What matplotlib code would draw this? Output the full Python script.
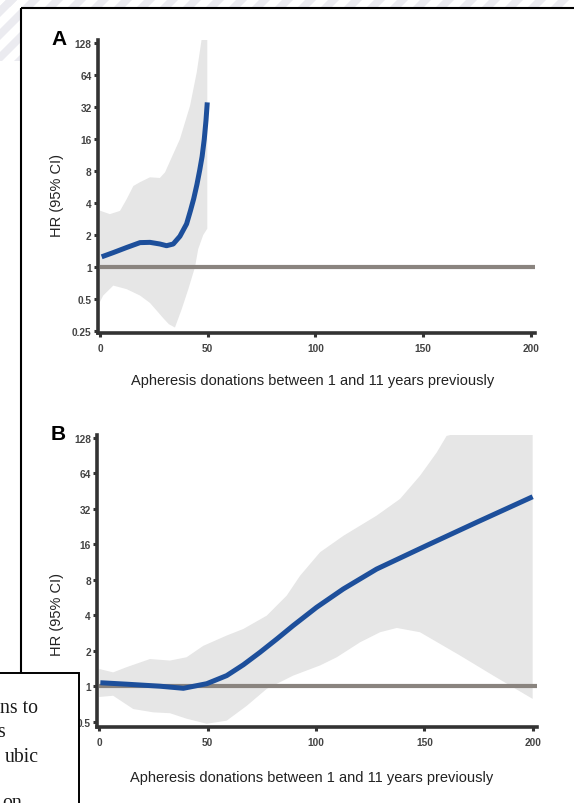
import numpy as np
import matplotlib
matplotlib.use("Agg")
import matplotlib.pyplot as plt
from matplotlib.patches import Polygon, Rectangle
from matplotlib.collections import PatchCollection

plt.rcParams['font.family'] = ['Liberation Sans', 'DejaVu Sans']

# ---------------- data ----------------
A_line_x = [0.8, 6.2, 12.4, 18.6, 23.2, 27.8, 30.9, 34.0, 37.1, 40.2, 42.0, 43.5, 45.0, 46.3, 47.4,
            48.4, 49.2, 49.8]
A_line_hr = [1.25, 1.37, 1.53, 1.70, 1.71, 1.65, 1.59, 1.65, 1.95, 2.55, 3.4, 4.4, 6.0, 8.2, 11.0,
             16, 24, 35.5]
A_upper_x = [0, 4.6, 9.3, 12.4, 15.5, 18.6, 23.2, 27.8, 30.2, 34.0, 37.1, 40.0, 41.8, 44.9, 47.2, 49.8]
A_upper_hr = [3.4, 3.15, 3.38, 4.36, 5.8, 6.3, 7.0, 6.9, 7.8, 11.6, 16, 25, 33, 68, 140, 180]
A_lower_x = [0, 1.5, 6.2, 12.4, 18.6, 23.2, 26.3, 29.4, 32.0, 34.8, 37.9, 41.0, 44.1, 45.6, 47.9, 49.8]
A_lower_hr = [0.47, 0.54, 0.67, 0.62, 0.54, 0.46, 0.39, 0.33, 0.29, 0.27, 0.40, 0.62, 1.0, 1.48, 2.0, 2.3]

B_line_x = [0.5, 12.6, 28, 38.8, 49.6, 58.8, 66.5, 74.2, 82, 89.5, 100.3, 112.6, 128, 151, 174.2, 200]
B_line_hr = [1.07, 1.04, 1.0, 0.96, 1.05, 1.23, 1.52, 1.94, 2.52, 3.27, 4.67, 6.68, 9.86, 15.6, 24.6, 40.5]
B_upper_x = [0, 6.4, 12.6, 23.4, 32.6, 40.3, 48, 58.8, 66.5, 77.3, 86.5, 92.7, 101.9, 112.7, 128,
             138.8, 148, 155.7, 160.3, 180, 200]
B_upper_hr = [1.4, 1.31, 1.45, 1.7, 1.65, 1.76, 2.2, 2.69, 3.06, 3.97, 5.87, 8.67, 13.7, 18.9, 28,
              38.8, 61, 96, 133, 160, 170]
B_lower_x = [0, 6.4, 15.7, 24.9, 32.6, 40.3, 49.6, 58.8, 68, 77.3, 89.5, 101.9, 109.6, 120.4, 129.6,
             137.3, 148, 166.5, 181.8, 200]
B_lower_hr = [0.81, 0.83, 0.64, 0.6, 0.59, 0.53, 0.48, 0.51, 0.68, 0.95, 1.23, 1.5, 1.76, 2.36, 2.87,
              3.12, 2.87, 1.82, 1.23, 0.78]

REF_HR = 1
x_ticks = [0, 50, 100, 150, 200]
A_yticks = [0.25, 0.5, 1, 2, 4, 8, 16, 32, 64, 128]
A_ylabels = ["0.25", "0.5", "1", "2", "4", "8", "16", "32", "64", "128"]
B_yticks = [0.5, 1, 2, 4, 8, 16, 32, 64, 128]
B_ylabels = ["0.5", "1", "2", "4", "8", "16", "32", "64", "128"]
x_label = "Apheresis donations between 1 and 11 years previously"
y_label = "HR (95% CI)"

BLUE = '#1d4f9b'
REFC = '#8a847f'
FILLC = '#e6e6e6'
SPINE = '#333333'

W, H = 574, 804
fig = plt.figure(figsize=(W / 100, H / 100), dpi=100)


def px_axes(left, top, right, bottom):
    return fig.add_axes([left / W, (H - bottom) / H, (right - left) / W, (bottom - top) / H])


def panel(ax, lx, lhr, ux, uhr, lox, lohr, ylim, yticks, ylabels, xlab_coords, ylab_coords):
    ax.set_yscale('log', base=2)
    xlim = (-1, 202)
    ax.set_xlim(*xlim)
    ax.set_ylim(*ylim)
    ax.fill(np.concatenate([ux, lox[::-1]]), np.concatenate([uhr, lohr[::-1]]),
            color=FILLC, lw=0, zorder=1)
    ax.axhline(REF_HR, xmin=(0 - xlim[0]) / (xlim[1] - xlim[0]), xmax=1,
               color=REFC, lw=3.0, zorder=2, solid_capstyle='butt')
    ax.plot(lx, lhr, color=BLUE, lw=3.6, zorder=3, solid_capstyle='butt',
            solid_joinstyle='round')
    for s in ['top', 'right']:
        ax.spines[s].set_visible(False)
    for s in ['left', 'bottom']:
        ax.spines[s].set_linewidth(2.6)
        ax.spines[s].set_color(SPINE)
    ax.set_xticks(x_ticks)
    ax.set_xticklabels([str(t) for t in x_ticks])
    ax.yaxis.set_major_locator(matplotlib.ticker.FixedLocator(yticks))
    ax.yaxis.set_major_formatter(matplotlib.ticker.FixedFormatter(ylabels))
    ax.yaxis.set_minor_locator(matplotlib.ticker.NullLocator())
    ax.tick_params(direction='out', length=3, width=2.2, color=SPINE, labelsize=7.3,
                   labelcolor='#444444', pad=1.5)
    ax.tick_params(axis='x', pad=4.5)
    for lab in ax.get_xticklabels() + ax.get_yticklabels():
        lab.set_fontweight('bold')
    ax.set_xlabel(x_label, fontsize=10.5, color='#222222')
    ax.set_ylabel(y_label, fontsize=10.5, color='#222222')
    ax.xaxis.set_label_coords(*xlab_coords)
    ax.yaxis.set_label_coords(*ylab_coords)
    ax.patch.set_alpha(0)


axA = px_axes(97.8, 41, 535.3, 334)
panel(axA, A_line_x, A_line_hr, np.array(A_upper_x), np.array(A_upper_hr),
      np.array(A_lower_x), np.array(A_lower_hr), (2 ** -2.06, 2 ** 7.1),
      A_yticks, A_ylabels, (0.49, -0.1365), (-0.0773, 0.471))

axB = px_axes(97.1, 436, 537.0, 728)
panel(axB, B_line_x, B_line_hr, np.array(B_upper_x), np.array(B_upper_hr),
      np.array(B_lower_x), np.array(B_lower_hr), (2 ** -1.15, 2 ** 7.08),
      B_yticks, B_ylabels, (0.4885, -0.147), (-0.0752, 0.387))

fig.text(51 / W, 1 - 45 / H, "A", fontsize=15, fontweight='bold', ha='left', va='baseline')
fig.text(51 / W, 1 - 440 / H, "B", fontsize=15, fontweight='bold', ha='left', va='baseline')

# ---------------- page decorations (overlay in pixel coords) ----------------
ov = fig.add_axes([0, 0, 1, 1], zorder=10)
ov.set_xlim(0, W)
ov.set_ylim(H, 0)
ov.axis('off')
ov.patch.set_alpha(0)


def stripes(clip_rect):
    polys = []
    hh = 120
    for c in np.arange(-200, W + 200, 23):
        polys.append(Polygon([(c, 0), (c + 11, 0), (c + 11 - hh, hh), (c - hh, hh)], closed=True))
    pc = PatchCollection(polys, facecolor='#ebebf0', edgecolor='none')
    ov.add_collection(pc)
    ov.add_patch(clip_rect)
    pc.set_clip_path(clip_rect)


stripes(Rectangle((0, 0), W, 8, facecolor='none', edgecolor='none'))
stripes(Rectangle((0, 0), 20, 62, facecolor='none', edgecolor='none'))

ov.plot([21, W + 5], [9, 9], color='black', lw=1.5, solid_capstyle='butt')
ov.plot([21, 21], [9, 690], color='black', lw=1.5, solid_capstyle='butt')

ov.add_patch(Rectangle((-5, 674), 84, 150, facecolor='white', edgecolor='black', lw=1.4, zorder=5))
serif = ['Liberation Serif', 'DejaVu Serif']
for txt, xr, yb in [("ns to", 38.5, 713), ("s", 4.5, 737.5), ("ubic", 39, 762), ("on", 22, 808)]:
    ov.text(xr, yb, txt, family=serif, fontsize=14.2, ha='right', va='baseline',
            color='#1a1a1a', zorder=6)

fig.savefig("out.png", dpi=100)
